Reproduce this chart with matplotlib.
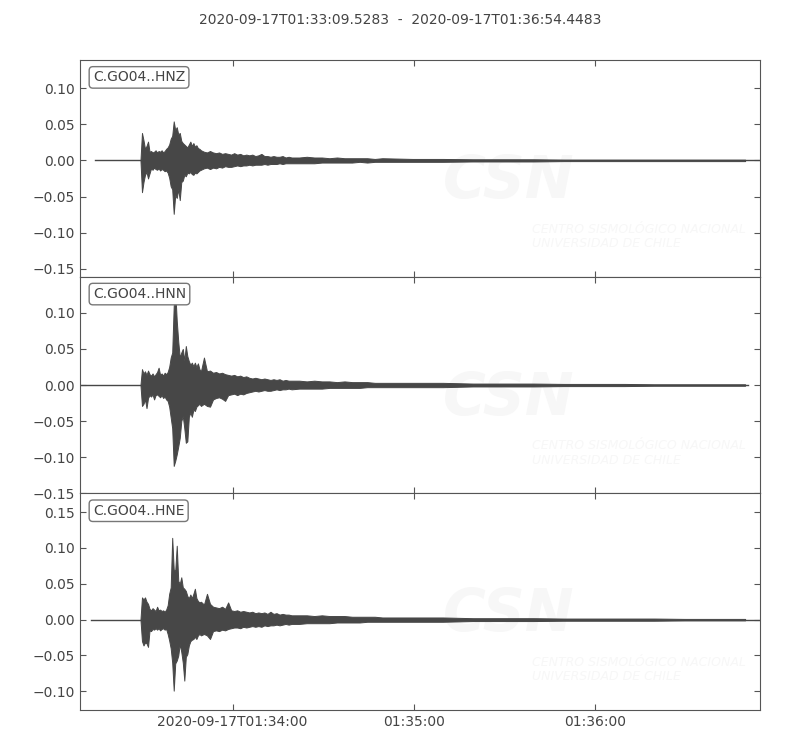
import numpy as np
import pandas as pd
import matplotlib
matplotlib.use("Agg")
import matplotlib.pyplot as plt

start = pd.Timestamp("2020-09-17T01:33:09.5283")
end = pd.Timestamp("2020-09-17T01:36:54.4483")

channels = ["C.GO04..HNZ", "C.GO04..HNN", "C.GO04..HNE"]
# seconds after start where each trace begins / ends
trace_start = [5.0, 0.0, 3.6]
trace_end = [224.9, 221.1, 224.9]

# envelope knots (seconds after start)
t_env = np.concatenate([np.arange(20, 40.01, 0.5), np.arange(41, 70.01, 1.0),
                        np.arange(72.5, 100.01, 2.5), np.arange(110, 220.01, 10.0)])

z_up = [0, 0.038, 0.028, 0.016, 0.020,
        0.026, 0.012, 0.013, 0.011, 0.012,
        0.014, 0.011, 0.013, 0.012, 0.014,
        0.011, 0.013, 0.016, 0.018, 0.022,
        0.030, 0.034, 0.054, 0.042, 0.046,
        0.036, 0.038, 0.027, 0.024, 0.022,
        0.020, 0.018, 0.022, 0.026, 0.020,
        0.024, 0.019, 0.021, 0.017, 0.016,
        0.014,
        0.012, 0.011, 0.013, 0.011, 0.010, 0.011, 0.009, 0.010, 0.009, 0.008,
        0.010, 0.008, 0.009, 0.007, 0.008, 0.007, 0.008, 0.006, 0.007, 0.009,
        0.006, 0.006, 0.005, 0.006, 0.005, 0.005, 0.006, 0.004, 0.005, 0.004,
        0.004, 0.005, 0.004, 0.004, 0.003, 0.004, 0.003, 0.003, 0.003, 0.003, 0.002, 0.003,
        0.002, 0.002, 0.0015, 0.0015, 0.0015, 0.001, 0.001, 0.001, 0.001, 0.001, 0.001, 0.001]
z_lo = [0, -0.044, -0.030, -0.020, -0.016,
        -0.025, -0.018, -0.011, -0.013, -0.010,
        -0.012, -0.013, -0.011, -0.014, -0.012,
        -0.013, -0.015, -0.014, -0.017, -0.024,
        -0.036, -0.040, -0.074, -0.048, -0.052,
        -0.040, -0.055, -0.030, -0.028, -0.020,
        -0.022, -0.017, -0.018, -0.016, -0.019,
        -0.020, -0.017, -0.018, -0.016, -0.014,
        -0.013,
        -0.011, -0.010, -0.012, -0.010, -0.011, -0.009, -0.010, -0.008, -0.009, -0.009,
        -0.008, -0.007, -0.008, -0.007, -0.007, -0.006, -0.007, -0.006, -0.006, -0.006,
        -0.005, -0.006, -0.005, -0.005, -0.005, -0.004, -0.005, -0.004, -0.004, -0.004,
        -0.004, -0.004, -0.004, -0.003, -0.003, -0.003, -0.003, -0.003, -0.002, -0.003, -0.002, -0.002,
        -0.002, -0.002, -0.0015, -0.0015, -0.0015, -0.001, -0.001, -0.001, -0.001, -0.001, -0.001, -0.001]

n_up = [0, 0.022, 0.016, 0.019, 0.014,
        0.020, 0.015, 0.013, 0.016, 0.012,
        0.015, 0.018, 0.024, 0.014, 0.016,
        0.013, 0.017, 0.015, 0.018, 0.025,
        0.038, 0.045, 0.110, 0.130, 0.089,
        0.060, 0.038, 0.045, 0.050, 0.034,
        0.054, 0.040, 0.033, 0.028, 0.031,
        0.026, 0.031, 0.025, 0.030, 0.022,
        0.019,
        0.038, 0.019, 0.020, 0.017, 0.018, 0.016, 0.017, 0.015, 0.014, 0.013,
        0.014, 0.012, 0.013, 0.011, 0.012, 0.010, 0.009, 0.010, 0.009, 0.008,
        0.009, 0.008, 0.007, 0.008, 0.007, 0.008, 0.006, 0.007, 0.006, 0.006,
        0.006, 0.005, 0.006, 0.005, 0.005, 0.004, 0.005, 0.004, 0.004, 0.004, 0.003, 0.003,
        0.003, 0.003, 0.002, 0.002, 0.002, 0.0015, 0.0015, 0.0015, 0.001, 0.001, 0.001, 0.001]
n_lo = [0, -0.029, -0.026, -0.020, -0.032,
        -0.018, -0.014, -0.016, -0.013, -0.020,
        -0.014, -0.013, -0.015, -0.017, -0.014,
        -0.018, -0.016, -0.020, -0.022, -0.030,
        -0.045, -0.060, -0.112, -0.105, -0.096,
        -0.085, -0.073, -0.050, -0.043, -0.060,
        -0.080, -0.078, -0.044, -0.038, -0.044,
        -0.034, -0.036, -0.030, -0.028, -0.026,
        -0.029,
        -0.026, -0.029, -0.030, -0.020, -0.018, -0.017, -0.019, -0.022, -0.014, -0.013,
        -0.012, -0.014, -0.012, -0.013, -0.011, -0.010, -0.009, -0.008, -0.009, -0.008,
        -0.007, -0.008, -0.008, -0.007, -0.006, -0.007, -0.006, -0.006, -0.005, -0.006,
        -0.005, -0.005, -0.005, -0.005, -0.004, -0.004, -0.004, -0.004, -0.004, -0.003, -0.003, -0.003,
        -0.003, -0.003, -0.002, -0.002, -0.002, -0.0015, -0.0015, -0.0015, -0.001, -0.001, -0.001, -0.001]

e_up = [0, 0.031, 0.028, 0.031, 0.025,
        0.022, 0.015, 0.013, 0.016, 0.014,
        0.012, 0.018, 0.013, 0.014, 0.012,
        0.013, 0.011, 0.014, 0.020, 0.036,
        0.045, 0.114, 0.070, 0.068, 0.103,
        0.054, 0.050, 0.059, 0.045, 0.043,
        0.040, 0.033, 0.030, 0.035, 0.030,
        0.036, 0.043, 0.030, 0.026, 0.024,
        0.025,
        0.021, 0.036, 0.022, 0.018, 0.017, 0.016, 0.018, 0.015, 0.024, 0.013,
        0.012, 0.013, 0.011, 0.012, 0.011, 0.010, 0.011, 0.009, 0.010, 0.009,
        0.010, 0.008, 0.011, 0.008, 0.009, 0.007, 0.008, 0.007, 0.007, 0.006,
        0.006, 0.006, 0.005, 0.006, 0.005, 0.005, 0.005, 0.004, 0.004, 0.004, 0.004, 0.003,
        0.003, 0.003, 0.002, 0.002, 0.002, 0.0015, 0.0015, 0.0015, 0.0015, 0.001, 0.001, 0.001]
e_lo = [0, -0.030, -0.036, -0.032, -0.033,
        -0.038, -0.015, -0.016, -0.013, -0.014,
        -0.012, -0.014, -0.012, -0.015, -0.013,
        -0.012, -0.014, -0.013, -0.020, -0.029,
        -0.040, -0.060, -0.099, -0.061, -0.057,
        -0.050, -0.034, -0.045, -0.060, -0.085,
        -0.052, -0.048, -0.036, -0.030, -0.028,
        -0.027, -0.024, -0.027, -0.022, -0.020,
        -0.022,
        -0.020, -0.022, -0.027, -0.016, -0.015, -0.016, -0.014, -0.015, -0.013, -0.012,
        -0.011, -0.011, -0.012, -0.010, -0.011, -0.010, -0.009, -0.010, -0.009, -0.010,
        -0.008, -0.009, -0.008, -0.008, -0.007, -0.008, -0.007, -0.006, -0.007, -0.006,
        -0.006, -0.005, -0.005, -0.005, -0.005, -0.004, -0.004, -0.004, -0.004, -0.003, -0.003, -0.003,
        -0.003, -0.003, -0.002, -0.002, -0.002, -0.0015, -0.0015, -0.0015, -0.0015, -0.001, -0.001, -0.001]

uppers = [z_up, n_up, e_up]
lowers = [z_lo, n_lo, e_lo]
for u, l in zip(uppers, lowers):
    assert len(u) == len(t_env) and len(l) == len(t_env)

y_limits = [(-0.161, 0.139), (-0.15, 0.15), (-0.126, 0.176)]
y_ticks = [[-0.15, -0.10, -0.05, 0.0, 0.05, 0.10],
           [-0.15, -0.10, -0.05, 0.0, 0.05, 0.10],
           [-0.10, -0.05, 0.0, 0.05, 0.10, 0.15]]

x_tick_times = ["2020-09-17T01:34:00", "2020-09-17T01:35:00", "2020-09-17T01:36:00"]
x_tick_labels = ["2020-09-17T01:34:00", "01:35:00", "01:36:00"]

trace_color = "#474747"
text_color = "#444444"
mark_color = "#f7f7f7"

plt.rcParams["font.family"] = ["DejaVu Sans"]
fig, axes = plt.subplots(3, 1, figsize=(8, 7.5), dpi=100, sharex=True)
fig.subplots_adjust(left=0.1, right=0.95, top=0.92, bottom=0.0533, hspace=0)

def to_time(sec):
    return start + pd.to_timedelta(np.asarray(sec, dtype=float), unit="s")

for i, ax in enumerate(axes):
    # faint CSN watermark
    ax.text(0.63, 0.44, "CSN", transform=ax.transAxes, fontsize=42, fontweight="bold",
            fontstyle="italic", color=mark_color, ha="center", va="center", zorder=0,
            clip_on=True)
    ax.text(0.665, 0.22, "CENTRO SISMOLÓGICO NACIONAL", transform=ax.transAxes,
            fontsize=9, fontstyle="italic", color=mark_color, ha="left", va="center",
            zorder=0, clip_on=True)
    ax.text(0.665, 0.153, "UNIVERSIDAD DE CHILE", transform=ax.transAxes,
            fontsize=9, fontstyle="italic", color=mark_color, ha="left", va="center",
            zorder=0, clip_on=True)

    ax.plot(to_time([trace_start[i], trace_end[i]]), [0, 0], color=trace_color, lw=1.0, zorder=2)
    ax.fill_between(to_time(t_env), lowers[i], uppers[i], color=trace_color,
                    lw=0.7, edgecolor=trace_color, zorder=3)

    ax.set_ylim(*y_limits[i])
    ax.set_yticks(y_ticks[i])
    ax.set_xlim(start, end)
    ax.tick_params(direction="in", length=4, top=True, right=True, colors="#555555",
                   labelcolor=text_color, labelsize=10)
    for sp in ax.spines.values():
        sp.set_color("#555555")
    ax.text(0.019, 0.952, channels[i], transform=ax.transAxes, fontsize=10, color=text_color,
            ha="left", va="top", zorder=5,
            bbox=dict(boxstyle="round,pad=0.27", fc="white", ec="#777777", lw=1))

axes[-1].set_xticks(pd.to_datetime(x_tick_times))
axes[-1].set_xticklabels(x_tick_labels)

fig.suptitle("2020-09-17T01:33:09.5283  -  2020-09-17T01:36:54.4483",
             y=0.982, fontsize=10, color=text_color)

fig.savefig("out.png", dpi=100)
